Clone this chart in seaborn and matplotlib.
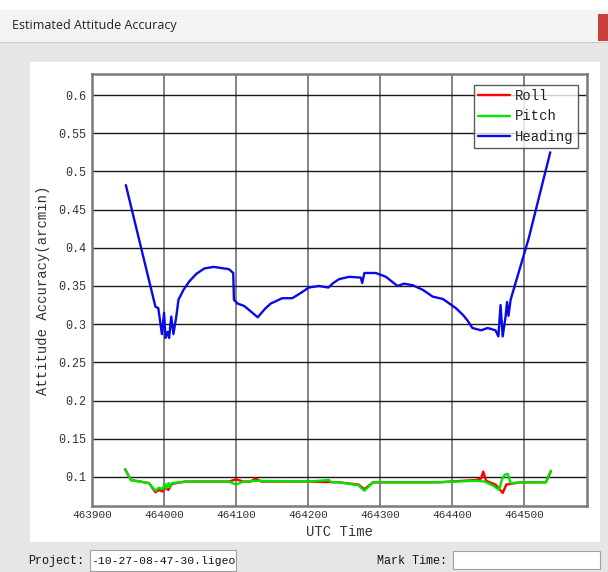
import numpy as np
import pandas as pd
import matplotlib
matplotlib.use('Agg')
import matplotlib.pyplot as plt
import seaborn as sns
from matplotlib.patches import Rectangle
from matplotlib.ticker import FormatStrFormatter

# Heading accuracy
heading_t = [463947, 463988, 463992, 463997, 464000, 464002, 464005, 464007, 464010,
             464013, 464017, 464020, 464027, 464035, 464045, 464056, 464069, 464090,
             464096, 464097, 464102, 464111, 464120, 464130, 464140, 464148, 464164,
             464178, 464190, 464201, 464215, 464228, 464235, 464243, 464257, 464273,
             464275, 464278, 464294, 464308, 464324, 464333, 464345, 464359, 464373,
             464387, 464405, 464415, 464421, 464428, 464440, 464449, 464460, 464464,
             464467, 464470, 464474, 464476, 464478, 464481, 464506, 464536]
heading_v = [0.482, 0.323, 0.321, 0.287, 0.315, 0.282, 0.290, 0.282, 0.310,
             0.287, 0.310, 0.332, 0.345, 0.356, 0.366, 0.373, 0.375, 0.372,
             0.367, 0.332, 0.327, 0.324, 0.317, 0.309, 0.320, 0.327, 0.334,
             0.334, 0.341, 0.348, 0.350, 0.348, 0.354, 0.359, 0.362, 0.361,
             0.354, 0.367, 0.367, 0.362, 0.350, 0.353, 0.351, 0.345, 0.336,
             0.333, 0.321, 0.312, 0.305, 0.295, 0.292, 0.295, 0.292, 0.284,
             0.325, 0.284, 0.310, 0.329, 0.311, 0.332, 0.412, 0.525]

# Roll accuracy
roll_t = [463946, 463954, 463979, 463988, 463993, 463998, 464002, 464006, 464011,
          464030, 464090, 464100, 464110, 464120, 464127, 464135, 464200, 464243,
          464270, 464278, 464290, 464380, 464433, 464440, 464443, 464447, 464460,
          464465, 464470, 464475, 464481, 464495, 464530, 464537]
roll_v = [0.110, 0.096, 0.092, 0.080, 0.083, 0.081, 0.086, 0.083, 0.091,
          0.094, 0.094, 0.097, 0.094, 0.094, 0.098, 0.094, 0.094, 0.093,
          0.090, 0.084, 0.093, 0.093, 0.096, 0.098, 0.107, 0.095, 0.090,
          0.085, 0.079, 0.090, 0.091, 0.093, 0.093, 0.108]

# Pitch accuracy
pitch_t = [463946, 463954, 463979, 463988, 463993, 463998, 464001, 464003, 464006,
           464008, 464011, 464030, 464090, 464100, 464110, 464127, 464200, 464229,
           464232, 464243, 464270, 464278, 464290, 464380, 464433, 464445, 464458,
           464465, 464469, 464473, 464477, 464481, 464495, 464530, 464537]
pitch_v = [0.110, 0.096, 0.092, 0.082, 0.086, 0.084, 0.091, 0.085, 0.092,
           0.087, 0.092, 0.094, 0.094, 0.090, 0.094, 0.095, 0.094, 0.096,
           0.093, 0.093, 0.089, 0.082, 0.093, 0.093, 0.095, 0.094, 0.088,
           0.083, 0.097, 0.103, 0.104, 0.092, 0.093, 0.093, 0.108]

x_ticks = [463900, 464000, 464100, 464200, 464300, 464400, 464500]
y_ticks = [0.1, 0.15, 0.2, 0.25, 0.3, 0.35, 0.4, 0.45, 0.5, 0.55, 0.6]

df = pd.concat([
    pd.DataFrame({'t': roll_t, 'v': roll_v, 'series': 'Roll'}),
    pd.DataFrame({'t': pitch_t, 'v': pitch_v, 'series': 'Pitch'}),
    pd.DataFrame({'t': heading_t, 'v': heading_v, 'series': 'Heading'}),
], ignore_index=True)

sns.set_style('white')
mono = ['Liberation Mono', 'DejaVu Sans Mono']
ui = ['Open Sans', 'DejaVu Sans']

fig = plt.figure(figsize=(6.08, 5.72), dpi=100)
fig.patch.set_facecolor('#e6e6e6')

W, H = 608, 572
def box(x, y, w, h, fc, ec='none', lw=0):
    fig.patches.append(Rectangle((x / W, 1 - (y + h) / H), w / W, h / H,
                                 transform=fig.transFigure, facecolor=fc,
                                 edgecolor=ec, linewidth=lw, zorder=-5))

# window chrome
box(0, 0, 608, 10, '#ffffff')
box(0, 10, 608, 32, '#f3f3f3')
box(0, 42, 608, 1, '#c8c8c8')
box(598, 14, 10, 27, '#c9413b')
fig.text(12 / W, 1 - 26 / H, 'Estimated Attitude Accuracy', fontsize=9,
         family=ui, va='center', ha='left', color='#222222')
# white panel behind plot
box(30, 62, 570, 480, '#ffffff')
# bottom bar
fig.text(28 / W, 1 - 561 / H, 'Project:', fontsize=8.5, family=mono, va='center', color='#111111')
box(90, 550, 146, 21, '#ffffff', '#a0a0a0', 0.8)
fig.text(91 / W, 1 - 561 / H, '-10-27-08-47-30.ligeo', fontsize=8.2, family=mono,
         va='center', color='#111111')
fig.text(377 / W, 1 - 561 / H, 'Mark Time:', fontsize=8.5, family=mono, va='center', color='#111111')
box(453, 551, 147, 18, '#ffffff', '#a0a0a0', 0.8)

ax = fig.add_axes([92 / W, 1 - 506 / H, 495 / W, 432 / H])
ax.set_zorder(2)
sns.lineplot(data=df, x='t', y='v', hue='series', sort=False, estimator=None,
             palette={'Roll': '#ff0000', 'Pitch': '#00e600', 'Heading': '#0a0ae6'},
             linewidth=1.7, ax=ax)

ax.set_xlim(463900, 464587)
ax.set_ylim(0.062, 0.6275)
ax.set_xticks(x_ticks)
ax.set_yticks(y_ticks)
ax.yaxis.set_major_formatter(FormatStrFormatter('%g'))
ax.xaxis.set_major_formatter(FormatStrFormatter('%d'))
ax.tick_params(length=0, labelsize=8.5, colors='#333333')
ax.tick_params(axis='x', pad=3, labelsize=8)
ax.tick_params(axis='y', pad=4)
for lab in ax.get_xticklabels() + ax.get_yticklabels():
    lab.set_family(mono)

ax.xaxis.grid(True, color='#6e6e6e', linewidth=1.2)
ax.yaxis.grid(True, color='#1a1a1a', linewidth=1.0)
ax.set_axisbelow(True)
for s in ax.spines.values():
    s.set_visible(True)
    s.set_color('#7a7a7a')
    s.set_linewidth(1.8)

ax.set_xlabel('UTC Time', fontsize=10, family=mono, color='#333333')
ax.set_ylabel('Attitude Accuracy(arcmin)', fontsize=10, family=mono, color='#333333')
ax.xaxis.set_label_coords(0.5, -(525 - 506) / 432)
ax.yaxis.set_label_coords(-(92 - 50) / 495, 0.5)

leg = ax.legend(loc='upper right', bbox_to_anchor=((578 - 92) / 495, 1 - 11 / 432),
                borderaxespad=0, frameon=True, fancybox=False,
                prop={'family': mono, 'size': 10},
                handlelength=2.3, handletextpad=0.4, borderpad=0.3, labelspacing=0.45)
leg.get_frame().set_edgecolor('#333333')
leg.get_frame().set_linewidth(1.0)
for t in leg.get_texts():
    t.set_color('#222222')

fig.savefig('out.png', dpi=100)
